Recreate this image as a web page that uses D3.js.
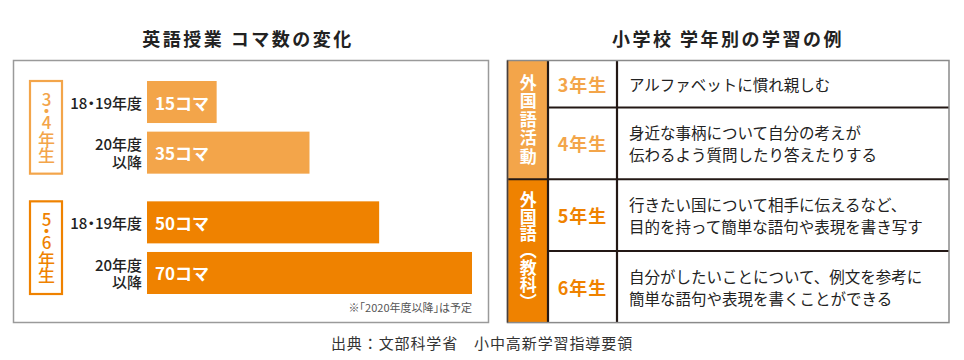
<!DOCTYPE html>
<html><head><meta charset="utf-8">
<script src="https://cdn.jsdelivr.net/npm/d3@7"></script>
<style>
html,body{margin:0;padding:0;background:#fff;}
svg{display:block;font-family:"Noto Sans CJK JP","Noto Sans",sans-serif;}
.halt{font-feature-settings:"halt";}
.vert{writing-mode:vertical-rl;text-orientation:mixed;}
.vertup{writing-mode:vertical-rl;text-orientation:upright;}
</style></head>
<body>
<svg id="c" width="964" height="360"></svg>
<script>
// ---- data ----
const leftTitle = "英語授業 コマ数の変化";
const rightTitle = "小学校 学年別の学習の例";
const grades = ["3・4年生", "5・6年生"];
const periods = ["18・19年度", "20年度以降"];
const periodLabelLines = [["18・19年度"], ["20年度", "以降"]];
const koma34 = [15, 35];
const koma56 = [50, 70];
const komaUnit = "コマ";
const note = "※「2020年度以降」は予定";
const tableGroups = ["外国語活動", "外国語（教科）"];
const tableGroupRows = [[0, 1], [2, 3]];
const tableGrades = ["3年生", "4年生", "5年生", "6年生"];
const tableTexts = [
  ["アルファベットに慣れ親しむ"],
  ["身近な事柄について自分の考えが", "伝わるよう質問したり答えたりする"],
  ["行きたい国について相手に伝えるなど、", "目的を持って簡単な語句や表現を書き写す"],
  ["自分がしたいことについて、例文を参考に", "簡単な語句や表現を書くことができる"]
];
const source = "出典：文部科学省　小中高新学習指導要領";

// ---- styles ----
const light = "#F3A54A", dark = "#EF8200", ink = "#231815";
const groupColors = [light, dark];
const svg = d3.select("#c");

// titles
svg.append("text").attr("x", 248).attr("y", 38).attr("text-anchor", "middle")
  .attr("dominant-baseline", "central").attr("font-size", 18).attr("font-weight", 700)
  .attr("letter-spacing", 2.5).attr("fill", "#222").text(leftTitle);
svg.append("text").attr("x", 728).attr("y", 38).attr("text-anchor", "middle")
  .attr("dominant-baseline", "central").attr("font-size", 18).attr("font-weight", 700)
  .attr("letter-spacing", 2.5).attr("fill", "#222").text(rightTitle);

// ---- left chart ----
svg.append("rect").attr("x", 13.5).attr("y", 60.5).attr("width", 475).attr("height", 262)
  .attr("fill", "none").attr("stroke", "#9a9a9a").attr("stroke-width", 1.5);

const x = d3.scaleLinear().domain([0, 70]).range([147, 472]);
const gScale = d3.scaleBand().domain(grades).range([81, 294]).paddingInner(0.23);
const pScale = d3.scaleBand().domain(periods).range([0, gScale.bandwidth()]).paddingInner(0.17);
const values = [koma34, koma56];

grades.forEach((gr, gi) => {
  const gy = gScale(gr);
  const col = groupColors[gi];
  svg.append("rect").attr("x", 30).attr("y", gy).attr("width", 32).attr("height", gScale.bandwidth())
    .attr("fill", "none").attr("stroke", col).attr("stroke-width", 2.2);
  const head = gr.slice(0, 2), tail = gr.slice(2);
  const t = svg.append("text").attr("class", "vertup").attr("x", 46.5)
    .attr("y", gy + gScale.bandwidth() / 2)
    .attr("text-anchor", "middle").attr("dominant-baseline", "central")
    .attr("font-size", 17).attr("font-weight", 500).attr("fill", col);
  t.append("tspan").attr("letter-spacing", -5.5).text(head);
  t.append("tspan").attr("letter-spacing", -0.5).text(tail);
  periods.forEach((p, pi) => {
    const by = gy + pScale(p);
    const bh = pScale.bandwidth();
    const v = values[gi][pi];
    svg.append("rect").attr("x", x(0)).attr("y", by).attr("width", x(v) - x(0)).attr("height", bh)
      .attr("fill", col);
    svg.append("text").attr("x", x(0) + 8).attr("y", by + bh / 2).attr("dominant-baseline", "central")
      .attr("font-size", 17).attr("font-weight", 700).attr("fill", "#fff").text(v + komaUnit);
    const lines = periodLabelLines[pi];
    lines.forEach((ln, li) => {
      svg.append("text").attr("class", "halt").attr("x", 142)
        .attr("y", by + bh / 2 + (li - (lines.length - 1) / 2) * 17.7)
        .attr("text-anchor", "end").attr("dominant-baseline", "central")
        .attr("font-size", 15).attr("font-weight", 500).attr("fill", "#222").text(ln);
    });
  });
});
svg.append("text").attr("class", "halt").attr("x", x(70)).attr("y", 306.5).attr("text-anchor", "end")
  .attr("dominant-baseline", "central").attr("font-size", 11).attr("fill", "#555").text(note);

// ---- right table ----
const tx0 = 507.5, tx1 = 548, tx2 = 617, tx3 = 949, ty0 = 60.5;
const rowH = tableTexts.map(t => t.length === 1 ? 47 : 71.7);
const rowY = [];
let acc = ty0;
rowH.forEach(h => { rowY.push(acc); acc += h; });
const ty1 = acc;

tableGroups.forEach((tg, gi) => {
  const rows = tableGroupRows[gi];
  const y0 = rowY[rows[0]], y1 = rowY[rows[rows.length - 1]] + rowH[rows[rows.length - 1]];
  svg.append("rect").attr("x", tx0).attr("y", y0).attr("width", tx1 - tx0).attr("height", y1 - y0)
    .attr("fill", groupColors[gi]);
  svg.append("text").attr("class", "vert").attr("x", (tx0 + tx1) / 2 + 0.5).attr("y", (y0 + y1) / 2)
    .attr("text-anchor", "middle").attr("dominant-baseline", "central")
    .attr("font-size", 17).attr("font-weight", 700).attr("letter-spacing", gi === 0 ? 1.5 : 0)
    .attr("fill", "#fff").text(tg);
  rows.forEach(r => {
    const cy = rowY[r] + rowH[r] / 2;
    svg.append("text").attr("x", (tx1 + tx2) / 2).attr("y", cy).attr("text-anchor", "middle")
      .attr("dominant-baseline", "central").attr("font-size", 18).attr("font-weight", 700)
      .attr("letter-spacing", 1).attr("fill", groupColors[gi]).text(tableGrades[r]);
    const lines = tableTexts[r];
    lines.forEach((ln, li) => {
      svg.append("text").attr("x", 629).attr("y", cy + (li - (lines.length - 1) / 2) * 22)
        .attr("dominant-baseline", "central").attr("font-size", 15.5)
        .attr("fill", "#222").text(ln);
    });
  });
});

rowY.slice(1).forEach((y, i) => {
  const r = i + 1;
  const groupBoundary = tableGroupRows.some(g => g[0] === r);
  svg.append("line").attr("x1", groupBoundary ? tx0 : tx1).attr("x2", tx3).attr("y1", y).attr("y2", y)
    .attr("stroke", ink).attr("stroke-width", 2);
});
[tx1, tx2].forEach(xx => {
  svg.append("line").attr("x1", xx).attr("x2", xx).attr("y1", ty0).attr("y2", ty1)
    .attr("stroke", ink).attr("stroke-width", 2.2);
});
svg.append("rect").attr("x", tx0).attr("y", ty0).attr("width", tx3 - tx0).attr("height", ty1 - ty0)
  .attr("fill", "none").attr("stroke", "#8a8a8a").attr("stroke-width", 1.5);
svg.append("line").attr("x1", tx0).attr("x2", tx0).attr("y1", ty0).attr("y2", ty1)
  .attr("stroke", "#4a403c").attr("stroke-width", 1.5);

svg.append("text").attr("x", 482).attr("y", 342).attr("text-anchor", "middle")
  .attr("dominant-baseline", "central").attr("font-size", 15).attr("letter-spacing", 0.9)
  .attr("fill", "#333").text(source);
</script>
</body></html>
